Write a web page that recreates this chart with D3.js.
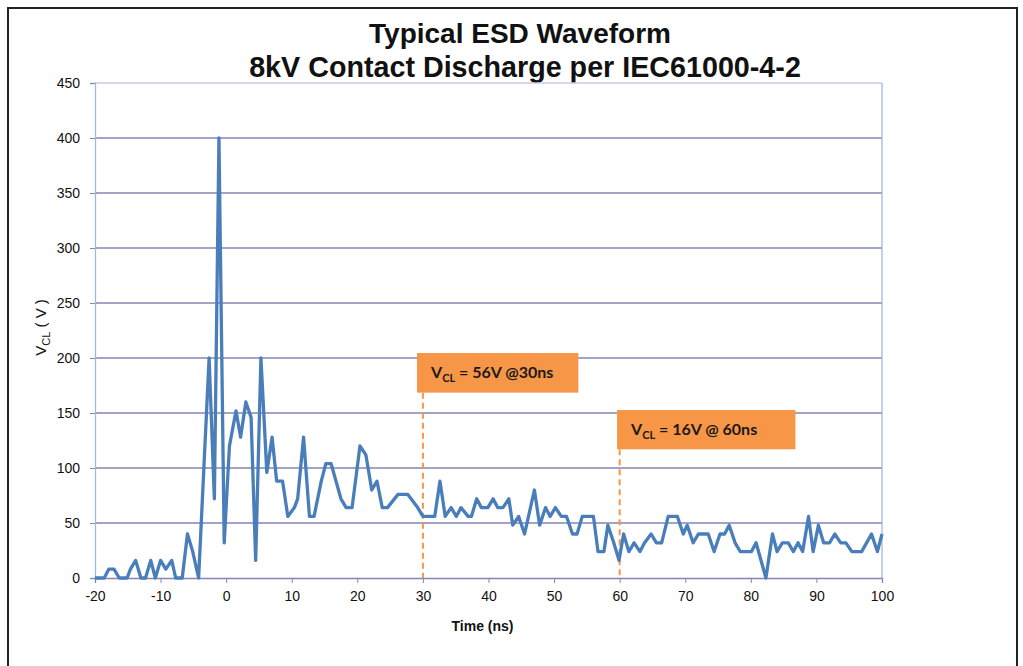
<!DOCTYPE html>
<html>
<head>
<meta charset="utf-8">
<script src="https://cdn.jsdelivr.net/npm/d3@7"></script>
<style>
  html, body { margin: 0; padding: 0; background: #fff; }
  svg { display: block; }
</style>
</head>
<body>
<div id="chart"></div>
<script>
// Waveform samples
const timeNs = [
  -20, -18.6, -17.9, -17.1, -16.3, -15.1, -14.6, -13.8, -13.0, -12.3, -11.5, -10.8, -10.0, -9.2, -8.3, -7.7,
  -6.7, -5.9, -5.1, -4.2, -2.6, -1.8, -1.1, -0.3, 0.5, 1.5, 2.2, 3.0, 3.8, 4.5, 5.3, 6.2, 7.0, 7.7, 8.6, 9.4,
  10.4, 10.9, 11.8, 12.7, 13.4, 14.5, 15.2, 16.0, 17.5, 18.3, 19.2, 20.4, 21.3, 22.2, 23.0, 23.8, 24.6,
  26.2, 27.7, 29.2, 30.0, 31.8, 32.6, 33.4, 34.3, 35.1, 35.8, 36.9, 37.4, 38.2, 38.9, 39.9, 40.7, 41.4,
  42.2, 43.1, 43.7, 44.6, 45.5, 47.0, 47.8, 48.7, 49.4, 50.2, 51.1, 51.9, 52.8, 53.5, 54.3, 56.0, 56.7,
  57.6, 58.2, 59.1, 59.9, 60.6, 61.4, 62.2, 63.1, 63.8, 64.8, 65.6, 66.4, 67.4, 68.8, 69.7, 70.3, 71.2,
  72.0, 73.5, 74.4, 75.3, 76.0, 76.7, 77.6, 78.4, 80.1, 80.8, 82.3, 83.3, 84.0, 84.8, 85.7, 86.5, 87.2,
  87.9, 88.8, 89.5, 90.3, 91.1, 92.0, 92.8, 93.7, 94.5, 95.4, 96.9, 98.4, 99.3, 100
];
const vclVolts = [
  0, 0, 8, 8, 0, 0, 8, 16, 0, 0, 16, 0, 16, 8, 16, 0,
  0, 40, 24, 0, 200, 72, 400, 32, 120, 152, 128, 160, 146, 16, 200, 96, 128, 88, 88, 56,
  64, 72, 128, 56, 56, 88, 104, 104, 72, 64, 64, 120, 112, 80, 88, 64, 64,
  76, 76, 64, 56, 56, 88, 56, 64, 56, 64, 56, 56, 72, 64, 64, 72, 64,
  64, 72, 48, 56, 40, 80, 48, 64, 56, 64, 56, 56, 40, 40, 56, 56, 24,
  24, 48, 32, 16, 40, 24, 32, 24, 32, 40, 32, 32, 56, 56, 40, 48, 32,
  40, 40, 24, 40, 40, 48, 32, 24, 24, 32, 0, 40, 24, 32, 32, 24, 32,
  24, 56, 24, 48, 32, 32, 40, 32, 32, 24, 24, 40, 24, 40
];

const xTicks = [-20, -10, 0, 10, 20, 30, 40, 50, 60, 70, 80, 90, 100];
const yTicks = [0, 50, 100, 150, 200, 250, 300, 350, 400, 450];

// Callouts: marker time and box extent (ns / V)
const calloutTimes = [30, 60];
const calloutBoxes = [
  { t0: 29.1, t1: 53.7, vTop: 204.5, vBottom: 168.5 },
  { t0: 59.6, t1: 86.8, vTop: 152.7, vBottom: 117 }
];
const calloutTexts = [' = 56V @30ns', ' = 16V @ 60ns'];

const titleLines = ['Typical ESD Waveform', '8kV Contact Discharge per IEC61000-4-2'];

const W = 1023, H = 666;
const margin = { top: 83, right: 141, bottom: 88, left: 95 };
const width = W - margin.left - margin.right;
const height = H - margin.top - margin.bottom;

const svg = d3.select('#chart')
  .append('svg')
  .attr('width', W)
  .attr('height', H);

// outer frame
svg.append('rect')
  .attr('x', 8).attr('y', 8)
  .attr('width', 1009).attr('height', 680)
  .attr('fill', 'none')
  .attr('stroke', '#222')
  .attr('stroke-width', 2);

// title
svg.append('g')
  .selectAll('text')
  .data(titleLines)
  .enter()
  .append('text')
  .attr('x', (d, i) => i === 0 ? 520 : 525)
  .attr('y', (d, i) => 43 + i * 34)
  .attr('text-anchor', 'middle')
  .style('font-family', 'Liberation Sans, Arial, sans-serif')
  .style('font-weight', 'bold')
  .style('font-size', (d, i) => i === 0 ? '28px' : '28.7px')
  .style('fill', '#111')
  .text(d => d);

const g = svg.append('g')
  .attr('transform', `translate(${margin.left},${margin.top})`);

const x = d3.scaleLinear().domain([-20, 100]).range([0, width]);
const y = d3.scaleLinear().domain([0, 450]).range([height, 0]);

// grid lines
g.append('g')
  .selectAll('line')
  .data(yTicks.filter(d => d > 0 && d < 450))
  .enter()
  .append('line')
  .attr('x1', 0).attr('x2', width)
  .attr('y1', d => y(d)).attr('y2', d => y(d))
  .attr('stroke', '#8585b5')
  .attr('stroke-width', 1.3);

// plot area border (top and right)
g.append('line')
  .attr('x1', 0).attr('x2', width)
  .attr('y1', y(450)).attr('y2', y(450))
  .attr('stroke', '#c9cce6').attr('stroke-width', 1.3);
g.append('line')
  .attr('x1', width).attr('x2', width)
  .attr('y1', 0).attr('y2', height)
  .attr('stroke', '#9fb8dc').attr('stroke-width', 1.3);

const tickFont = 'Liberation Sans, Arial, sans-serif';

// y axis
const yAxis = g.append('g')
  .call(d3.axisLeft(y).tickValues(yTicks).tickSize(5).tickPadding(10).tickFormat(d => String(d)));
yAxis.select('.domain').attr('stroke', '#9fb8dc').attr('stroke-width', 1.3);
yAxis.selectAll('.tick line').attr('stroke', '#8585b5');
yAxis.selectAll('.tick text')
  .style('font-family', tickFont)
  .style('font-size', '14px')
  .style('fill', '#111');

// x axis
const xAxis = g.append('g')
  .attr('transform', `translate(0,${height})`)
  .call(d3.axisBottom(x).tickValues(xTicks).tickSize(5).tickPadding(8).tickFormat(d => String(d)));
xAxis.select('.domain').attr('stroke', '#8585b5').attr('stroke-width', 1.3);
xAxis.selectAll('.tick line').attr('stroke', '#8585b5');
xAxis.selectAll('.tick text')
  .style('font-family', tickFont)
  .style('font-size', '14px')
  .style('fill', '#111');

// x axis title
g.append('text')
  .attr('x', x(40) - 6)
  .attr('y', height + 53)
  .attr('text-anchor', 'middle')
  .style('font-family', tickFont)
  .style('font-weight', 'bold')
  .style('font-size', '14px')
  .style('fill', '#111')
  .text('Time (ns)');

// y axis title
const yLabel = svg.append('text')
  .attr('transform', `translate(46,${margin.top + y(225) - 3}) rotate(-90)`)
  .attr('text-anchor', 'middle')
  .style('font-family', tickFont)
  .style('font-size', '15px')
  .style('fill', '#111');
yLabel.append('tspan').text('V');
yLabel.append('tspan').attr('dy', 4).style('font-size', '11px').text('CL');
yLabel.append('tspan').attr('dy', -4).text(' (  V  )');

// dashed markers
g.append('g')
  .selectAll('line')
  .data(calloutTimes)
  .enter()
  .append('line')
  .attr('x1', d => x(d)).attr('x2', d => x(d))
  .attr('y1', (d, i) => y(calloutBoxes[i].vBottom))
  .attr('y2', height)
  .attr('stroke', '#f79646')
  .attr('stroke-width', 2)
  .attr('stroke-dasharray', '6,4');

// waveform
const line = d3.line()
  .x((d, i) => x(timeNs[i]))
  .y(d => y(d));

g.append('path')
  .datum(vclVolts)
  .attr('d', line)
  .attr('fill', 'none')
  .attr('stroke', '#4a7ebb')
  .attr('stroke-width', 3.3)
  .attr('stroke-linejoin', 'round');

// callout boxes
const boxes = g.append('g')
  .selectAll('g')
  .data(calloutBoxes)
  .enter()
  .append('g');

boxes.append('rect')
  .attr('x', d => x(d.t0))
  .attr('y', d => y(d.vTop))
  .attr('width', d => x(d.t1) - x(d.t0))
  .attr('height', d => y(d.vBottom) - y(d.vTop))
  .attr('fill', '#f79646');

const boxText = boxes.append('text')
  .attr('x', d => x(d.t0) + 14)
  .attr('y', d => y(d.vTop) + 25)
  .style('font-family', 'Lato, Open Sans, sans-serif')
  .style('font-weight', 'bold')
  .style('font-size', '16px')
  .style('fill', '#1a1a1a');
boxText.append('tspan').text('V');
boxText.append('tspan').attr('dy', 4).style('font-size', '11px').text('CL');
boxText.append('tspan').attr('dy', -4).text((d, i) => calloutTexts[i]);
</script>
</body>
</html>
